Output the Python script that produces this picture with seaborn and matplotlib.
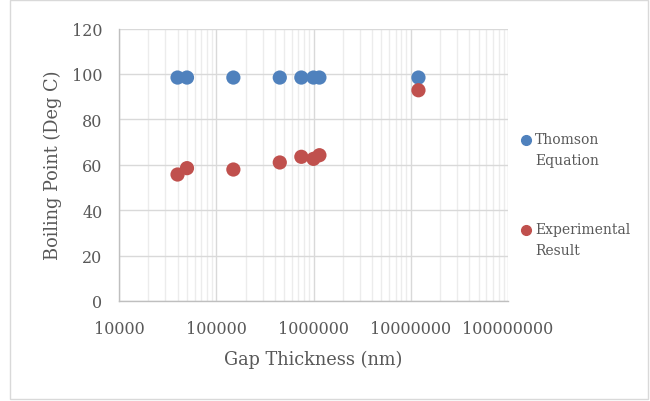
import matplotlib
matplotlib.use("Agg")
import matplotlib.pyplot as plt
from matplotlib.lines import Line2D
from matplotlib.patches import Rectangle
from matplotlib.ticker import LogLocator, FixedLocator, FuncFormatter
import seaborn as sns
import pandas as pd

# Gap thickness (nm) and boiling points (deg C)
gap_nm = [40000, 50000, 150000, 450000, 750000, 1000000, 1150000, 12000000]
thomson = [98.4, 98.4, 98.4, 98.4, 98.4, 98.4, 98.4, 98.4]
experimental = [55.7, 58.5, 57.9, 61.0, 63.5, 62.6, 64.2, 92.8]
series_names = ["Thomson\nEquation", "Experimental\nResult"]
series_colors = ["#4F81BD", "#C0504D"]
y_ticks = [0, 20, 40, 60, 80, 100, 120]
x_ticks = [1e4, 1e5, 1e6, 1e7, 1e8]

df = pd.DataFrame({
    "gap": gap_nm * 2,
    "bp": thomson + experimental,
    "series": [series_names[0]] * len(gap_nm) + [series_names[1]] * len(gap_nm),
})

sns.set_style("white")
plt.rcParams["font.family"] = ["DejaVu Serif"]
text_color = "#595959"

fig = plt.figure(figsize=(6.5, 4.02), dpi=100)
ax = fig.add_axes([119 / 650, 1 - 302 / 402, (508 - 119) / 650, (302 - 29.5) / 402])

sns.scatterplot(data=df, x="gap", y="bp", hue="series", hue_order=series_names,
                palette=series_colors, s=105, edgecolor="none", linewidth=0,
                legend=False, ax=ax, zorder=3)

ax.set_xscale("log")
ax.set_xlim(1e4, 1e8)
ax.set_ylim(0, 120)
ax.xaxis.set_major_locator(FixedLocator(x_ticks))
ax.xaxis.set_major_formatter(FuncFormatter(lambda v, p: f"{int(round(v))}"))
ax.xaxis.set_minor_locator(LogLocator(base=10, subs=range(2, 10)))
ax.xaxis.set_minor_formatter(FuncFormatter(lambda v, p: ""))
ax.yaxis.set_major_locator(FixedLocator(y_ticks))

ax.grid(True, which="major", axis="both", color="#d9d9d9", linewidth=1.0, zorder=0)
ax.grid(True, which="minor", axis="x", color="#ececec", linewidth=1.0, zorder=0)
ax.set_axisbelow(True)

for side in ["top", "right"]:
    ax.spines[side].set_visible(False)
for side in ["left", "bottom"]:
    ax.spines[side].set_color("#bfbfbf")
    ax.spines[side].set_linewidth(1.0)

ax.tick_params(axis="both", which="both", length=0, labelsize=11.5, labelcolor=text_color)
ax.tick_params(axis="y", pad=12)
ax.tick_params(axis="x", pad=14)

ax.set_xlabel("Gap Thickness (nm)", fontsize=12.75, color=text_color, labelpad=9)
ax.set_ylabel("Boiling Point (Deg C)", fontsize=12.75, color=text_color, labelpad=7)

# Legend on the right, marker beside the first line of each label
legend_rows = [141, 231]
for name, color, row in zip(series_names, series_colors, legend_rows):
    fig.add_artist(Line2D([526 / 650], [1 - row / 402], marker="o", markersize=7,
                          color=color, linestyle="none", transform=fig.transFigure))
    fig.text(535 / 650, 1 - (row - 8) / 402, name, fontsize=10, color=text_color,
             va="top", ha="left", linespacing=1.6)

# Chart frame
fig.add_artist(Rectangle((10 / 650, 1 - 400 / 402), 638 / 650, 399 / 402,
                         transform=fig.transFigure, fill=False,
                         edgecolor="#d9d9d9", linewidth=1.0))

fig.savefig("out.png", dpi=100)
